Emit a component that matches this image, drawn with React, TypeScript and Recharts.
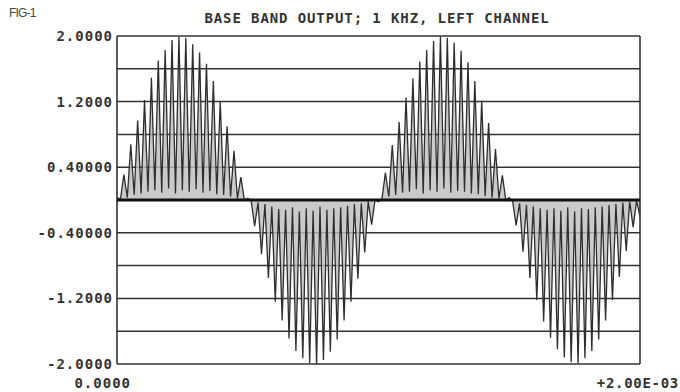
import { AreaChart, Area, XAxis, YAxis, CartesianGrid, ReferenceLine } from "recharts";

// envelope peaks of the 38 kHz subcarrier (volts)
const peakValues = [
  0.03, 0.31, 0.68, 0.97, 1.22, 1.49, 1.7, 1.83, 1.95, 1.99, 1.98, 1.9, 1.8, 1.66, 1.45, 1.2, 0.9, 0.6, 0.28, 0.02,
  -0.32, -0.66, -0.95, -1.24, -1.47, -1.69, -1.84, -1.93, -1.99, -2.0, -1.95, -1.85, -1.7, -1.47, -1.24, -0.96, -0.64, -0.3,
  -0.02,
  0.33, 0.67, 0.95, 1.25, 1.48, 1.69, 1.83, 1.94, 1.99, 1.98, 1.92, 1.82, 1.68, 1.45, 1.21, 0.94, 0.62, 0.3,
  0.03,
  -0.31, -0.63, -0.95, -1.22, -1.48, -1.68, -1.82, -1.92, -1.98, -1.99, -1.93, -1.84, -1.7, -1.47, -1.22, -0.94, -0.62, -0.33,
  -0.2,
];

// minima between consecutive peaks
const troughValues = [
  0.01, 0.03, 0.06, 0.08, 0.1, 0.12, 0.09, 0.14, 0.08, 0.12, 0.1, 0.13, 0.09, 0.11, 0.07, 0.06, 0.04, 0.02, 0.0,
  -0.01, -0.03, -0.05, -0.08, -0.11, -0.12, -0.09, -0.14, -0.1, -0.13, -0.08, -0.12, -0.1, -0.09, -0.07, -0.05, -0.04, -0.02, 0.0,
  0.01, 0.04, 0.06, 0.09, 0.1, 0.13, 0.08, 0.12, 0.1, 0.14, 0.09, 0.11, 0.1, 0.08, 0.07, 0.05, 0.03, 0.02, 0.0,
  -0.02, -0.04, -0.06, -0.08, -0.1, -0.12, -0.1, -0.13, -0.09, -0.14, -0.1, -0.11, -0.09, -0.08, -0.06, -0.05, -0.03, -0.02, -0.01,
];

const sampleRate = 76000; // one point per half subcarrier cycle

const yTicks = [-2, -1.6, -1.2, -0.8, -0.4, 0, 0.4, 0.8, 1.2, 1.6, 2];
const yLabels: Record<string, string> = {
  "2": "2.0000",
  "1.2": "1.2000",
  "0.4": "0.40000",
  "-0.4": "-0.40000",
  "-1.2": "-1.2000",
  "-2": "-2.0000",
};
const xTicks = [0, 0.002];
const xLabels = ["0.0000", "+2.00E-03"];

const samples: number[] = [];
peakValues.forEach((p, k) => {
  samples.push(p);
  if (k < troughValues.length) samples.push(troughValues[k]);
});
const data = samples.map((v, i) => ({ t: i / sampleRate, v }));

const MONO = "'DejaVu Sans Mono', monospace";

const YTick = ({ x, y, payload }: any) => {
  const label = yLabels[String(Math.round(payload.value * 10) / 10)];
  if (!label) return null;
  return (
    <text x={x} y={y} dy={5} textAnchor="end" fontFamily={MONO} fontWeight="bold" fontSize={14} letterSpacing={1} fill="#333">
      {label}
    </text>
  );
};

const XTick = ({ x, y, payload, index }: any) => {
  const first = payload.value === 0;
  return (
    <text
      x={first ? x + 14 : 679}
      y={y + 16}
      textAnchor="end"
      fontFamily={MONO}
      fontWeight="bold"
      fontSize={14}
      letterSpacing={first ? 1 : 0.7}
      fill="#333"
    >
      {xLabels[index]}
    </text>
  );
};

export default function App() {
  return (
    <div style={{ position: "relative", width: 680, height: 392, background: "#fff" }}>
      <style>{"body{margin:0}"}</style>
      <AreaChart width={680} height={392} data={data} margin={{ top: 36, right: 40, bottom: 0, left: 0 }}>
        <CartesianGrid vertical={false} stroke="#333" strokeWidth={1.5} />
        <XAxis
          dataKey="t"
          type="number"
          domain={[0, 0.002]}
          ticks={xTicks}
          tick={<XTick />}
          axisLine={false}
          tickLine={false}
          height={28}
          interval={0}
        />
        <YAxis
          type="number"
          domain={[-2, 2]}
          ticks={yTicks}
          tick={<YTick />}
          axisLine={false}
          tickLine={false}
          tickSize={4}
          tickMargin={0}
          width={117}
          interval={0}
        />
        <ReferenceLine x={0} stroke="#333" strokeWidth={1.6} />
        <ReferenceLine x={0.002} stroke="#333" strokeWidth={1.6} />
        <Area
          type="linear"
          dataKey="v"
          baseValue={0}
          stroke="#2e2e2e"
          strokeWidth={1.3}
          fill="#bdbdbd"
          fillOpacity={0.8}
          dot={false}
          isAnimationActive={false}
        />
        <ReferenceLine y={0} stroke="#111" strokeWidth={3} />
      </AreaChart>
      <svg width={680} height={40} style={{ position: "absolute", left: 0, top: 0, pointerEvents: "none" }}>
        <text x={9} y={17} fontFamily="'Liberation Sans', Arial, sans-serif" fontSize={12} letterSpacing={-0.8} fill="#444">
          FIG-1
        </text>
        <text x={377} y={23} textAnchor="middle" fontFamily={MONO} fontWeight="bold" fontSize={14} letterSpacing={0.9} fill="#333">
          BASE BAND OUTPUT; 1 KHZ, LEFT CHANNEL
        </text>
      </svg>
    </div>
  );
}
